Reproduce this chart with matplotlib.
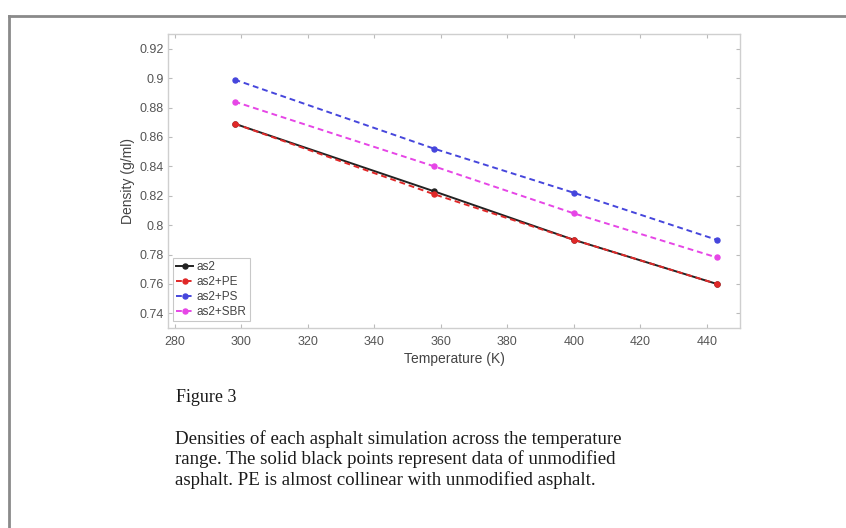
import matplotlib
matplotlib.use("Agg")
import matplotlib.pyplot as plt
from matplotlib.lines import Line2D

temperature = [298, 358, 400, 443]
as2 = [0.869, 0.823, 0.790, 0.760]
as2_pe = [0.869, 0.821, 0.790, 0.760]
as2_ps = [0.899, 0.852, 0.822, 0.790]
as2_sbr = [0.884, 0.840, 0.808, 0.778]
series_names = ["as2", "as2+PE", "as2+PS", "as2+SBR"]
x_ticks = [280, 300, 320, 340, 360, 380, 400, 420, 440]
y_ticks = [0.74, 0.76, 0.78, 0.8, 0.82, 0.84, 0.86, 0.88, 0.9, 0.92]
y_tick_labels = ["0.74", "0.76", "0.78", "0.8", "0.82", "0.84", "0.86", "0.88", "0.9", "0.92"]
caption_title = "Figure 3"
caption_lines = [
    "Densities of each asphalt simulation across the temperature",
    "range. The solid black points represent data of unmodified",
    "asphalt. PE is almost collinear with unmodified asphalt.",
]

W, H = 846, 528
fig = plt.figure(figsize=(W / 100, H / 100), dpi=100)
fig.patch.set_facecolor("white")

# page border (top and left)
fig.add_artist(Line2D([9 / W, 1.0], [1 - 15.5 / H, 1 - 15.5 / H], transform=fig.transFigure,
                      color="#8a8a8a", lw=2.0))
fig.add_artist(Line2D([9 / W, 9 / W], [0.0, 1 - 15.5 / H], transform=fig.transFigure,
                      color="#8a8a8a", lw=2.0))

ax = fig.add_axes([168 / W, 1 - 328 / H, (740 - 168) / W, (328 - 34) / H])

tick_col = "#555555"
spine_col = "#cfcfcf"
dash = (0, (3, 2))

ax.plot(temperature, as2, color="#222222", ls="-", lw=1.4, marker="o", ms=3.6, label=series_names[0])
ax.plot(temperature, as2_pe, color="#e02828", ls=dash, lw=1.4, marker="o", ms=3.6, label=series_names[1])
ax.plot(temperature, as2_ps, color="#4646dc", ls=dash, lw=1.4, marker="o", ms=3.6, label=series_names[2])
ax.plot(temperature, as2_sbr, color="#e646e6", ls=dash, lw=1.4, marker="o", ms=3.6, label=series_names[3])

ax.set_xlim(278, 450)
ax.set_ylim(0.73, 0.93)
ax.set_xticks(x_ticks)
ax.set_yticks(y_ticks)
ax.set_yticklabels(y_tick_labels)

for s in ax.spines.values():
    s.set_color(spine_col)
    s.set_linewidth(1.0)
ax.tick_params(direction="in", length=3, width=0.8, color="#bbbbbb", labelsize=9,
               labelcolor=tick_col, top=True, right=True, pad=3)
ax.tick_params(axis="x", pad=6)
for lab in ax.get_xticklabels() + ax.get_yticklabels():
    lab.set_family("Liberation Sans")

ax.set_xlabel("Temperature (K)", fontsize=10, color="#444444", family="Liberation Sans", labelpad=3)
ax.set_ylabel("Density (g/ml)", fontsize=10, color="#444444", family="Liberation Sans", labelpad=3)

leg = ax.legend(loc="lower left", bbox_to_anchor=(0.005, 0.015),
                prop={"family": "Liberation Sans", "size": 8.5},
                frameon=True, fancybox=False, handlelength=1.45, handletextpad=0.3,
                labelspacing=0.25, borderpad=0.25, borderaxespad=0.2)
leg.get_frame().set_edgecolor("#bbbbbb")
leg.get_frame().set_linewidth(0.8)
for t in leg.get_texts():
    t.set_color("#444444")

# caption
fig.text(176 / W, 1 - 402 / H, caption_title, family="Liberation Serif", fontsize=13,
         color="#1a1a1a", va="baseline", ha="left")
for i, line in enumerate(caption_lines):
    fig.text(175 / W, 1 - (444 + 20.5 * i) / H, line, family="Liberation Serif", fontsize=13.6,
             color="#1a1a1a", va="baseline", ha="left")

fig.savefig("out.png", dpi=100, facecolor="white")
